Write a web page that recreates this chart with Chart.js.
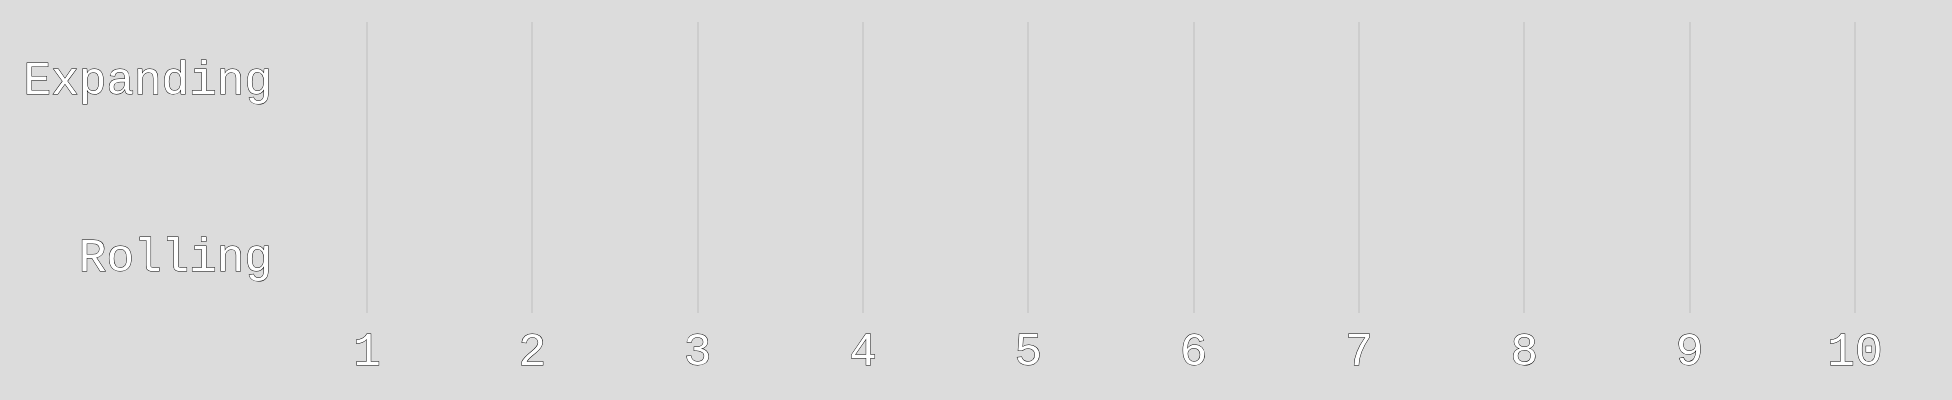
<!DOCTYPE html>
<html>
<head>
<meta charset="utf-8">
<script src="https://cdn.jsdelivr.net/npm/chart.js@4/dist/chart.umd.min.js"></script>
<style>
  html, body { margin: 0; padding: 0; background: #dcdcdc; }
  canvas { display: block; }
</style>
</head>
<body>
<canvas id="grafico" width="1952" height="400"></canvas>
<script>
const categorias = ['Expanding', 'Rolling']
const ticksX = [1, 2, 3, 4, 5, 6, 7, 8, 9, 10]
// the reference shows no marks, only the empty frame
const valoresExpanding = []
const valoresRolling = []

const fuente = { family: 'Liberation Mono', size: 46 }

// Expanding sits on y = 1, Rolling on y = 0
const posicionCat = (nombre) => categorias.length - 1 - categorias.indexOf(nombre)

// drop the extra room chart.js keeps for half a label at each end
const sinRelleno = (scale) => {
    scale.paddingTop = 0
    scale.paddingBottom = 0
    scale.paddingLeft = 0
    scale.paddingRight = 0
}

new Chart('grafico', {
    type: 'scatter',
    data: {
        datasets: [
            { label: 'Expanding', data: valoresExpanding.map((v) => ({ x: v, y: posicionCat('Expanding') })) },
            { label: 'Rolling', data: valoresRolling.map((v) => ({ x: v, y: posicionCat('Rolling') })) }
        ]
    },
    options: {
        responsive: false,
        devicePixelRatio: 1,
        animation: false,
        layout: { autoPadding: false, padding: { left: 11.3, right: 14.4, top: 22, bottom: 7.8 } },
        plugins: { legend: { display: false }, tooltip: { enabled: false } },
        scales: {
            x: {
                type: 'linear',
                min: 0.5,
                max: 10.5,
                afterBuildTicks: (scale) => { scale.ticks = ticksX.map((v) => ({ value: v })) },
                afterFit: sinRelleno,
                grid: { color: '#cdcdcd', lineWidth: 2, drawTicks: false },
                border: { display: false },
                ticks: {
                    font: fuente,
                    color: '#ffffff',
                    textStrokeColor: '#000000',
                    textStrokeWidth: 1,
                    padding: 12,
                    maxRotation: 0,
                    autoSkip: false
                }
            },
            y: {
                type: 'linear',
                min: -0.304,
                max: 1.335,
                afterBuildTicks: (scale) => { scale.ticks = categorias.map((c) => ({ value: posicionCat(c) })) },
                afterFit: sinRelleno,
                grid: { display: false, drawTicks: false },
                border: { display: false },
                ticks: {
                    font: fuente,
                    color: '#ffffff',
                    textStrokeColor: '#000000',
                    textStrokeWidth: 1,
                    padding: 12.3,
                    callback: (v) => categorias[categorias.length - 1 - v]
                }
            }
        }
    }
})
</script>
</body>
</html>
